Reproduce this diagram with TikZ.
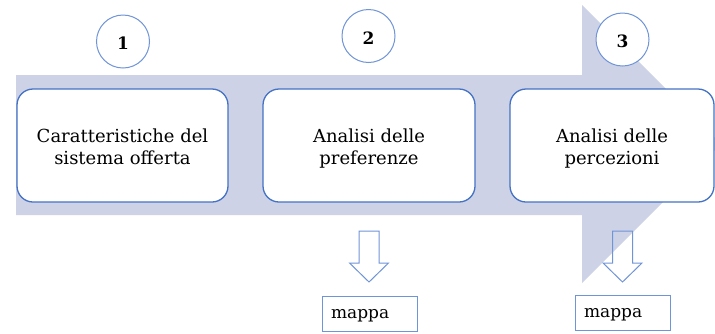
\documentclass[tikz,border=0pt]{standalone}
\usepackage{fontspec}
\setmainfont{DejaVu Serif}
\definecolor{bandfill}{RGB}{205,210,231}
\definecolor{edgeblue}{RGB}{68,114,196}
\definecolor{lightblue}{RGB}{112,148,216}
\newcommand\hollowdown[2]{%
  \draw[hollow,shift={(#1)}] (-10,0) -- (10,0) -- (10,32) -- (19.5,32) -- (0,51) -- (-19.5,32) -- (-10,32) -- cycle;
  \coordinate (#2) at (#1);}
\begin{document}
\begin{tikzpicture}[x=1pt,y=-1pt,
  stage/.style={draw=edgeblue, line width=1.3pt, fill=white, rounded corners=16pt,
    minimum height=113pt, inner sep=0pt},
  stagetext/.style={align=center, font=\fontsize{18}{22}\selectfont, inner sep=0pt, text depth=0pt},
  num/.style={circle, draw=lightblue, line width=1pt, fill=white, minimum size=53pt, inner sep=0pt},
  numtext/.style={inner sep=0pt, text depth=0pt, font=\fontsize{17}{17}\bfseries\selectfont},
  mapbox/.style={draw=lightblue, line width=1pt, minimum width=95pt, minimum height=35pt,
    text width=77pt, inner xsep=9pt, inner ysep=0pt, text depth=0pt, align=left, font=\fontsize{17}{17}\selectfont},
  hollow/.style={draw=lightblue, line width=1pt, line join=miter}
]
\useasboundingbox (0,0) rectangle (715,333);
\clip (0,0) rectangle (715,333);
% big process arrow
\fill[bandfill] (16,75) -- (582,75) -- (582,5) -- (721,144) -- (582,283) -- (582,215) -- (16,215) -- cycle;
% stages
\node[stage, minimum width=211pt] (s1) at (122.5,145.5) {};
\node[stage, minimum width=212pt] (s2) at (369,145.5) {};
\node[stage, minimum width=204pt] (s3) at (612,145.5) {};
\node[stagetext] (t1) at ([yshift=-1.5pt]s1.center) {Caratteristiche del\\sistema offerta};
\node[stagetext] (t2) at ([yshift=-1.5pt]s2.center) {Analisi delle\\preferenze};
\node[stagetext] (t3) at ([yshift=-1.5pt]s3.center) {Analisi delle\\percezioni};
% numbers
\node[num] (n1) at (123,41.5) {};
\node[num] (n2) at (368.5,36) {};
\node[num] (n3) at (622.5,39.5) {};
\node[numtext] (d1) at ([yshift=-2pt]n1.center) {1};
\node[numtext] (d2) at ([yshift=-2pt]n2.center) {2};
\node[numtext] (d3) at ([yshift=-2pt]n3.center) {3};
% down arrows
\hollowdown{369,231}{a1}
\hollowdown{622.5,231}{a2}
% maps
\node[mapbox] (m1) at (369.5,313.5) {mappa};
\node[mapbox] (m2) at (622.5,313) {mappa};
\end{tikzpicture}
\end{document}
